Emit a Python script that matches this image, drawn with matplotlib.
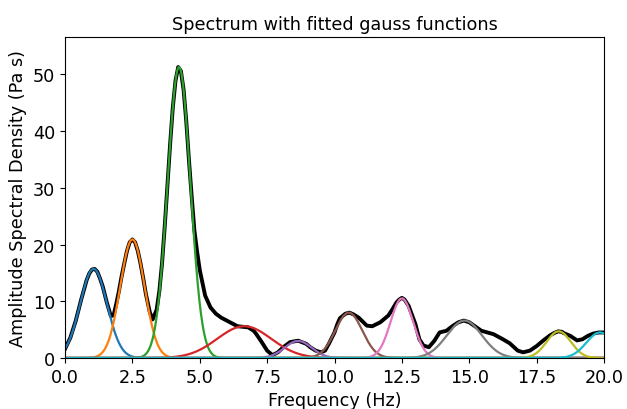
import numpy as np
import matplotlib
matplotlib.use("Agg")
import matplotlib.pyplot as plt

freq = [0.0, 0.2, 0.4, 0.6, 0.8, 0.9, 1.0, 1.1, 1.2, 1.3, 1.4, 1.55, 1.7, 1.8,
        1.9, 2.0, 2.1, 2.2, 2.3, 2.4, 2.5, 2.6, 2.7, 2.8, 2.9, 3.0, 3.15, 3.25,
        3.4, 3.5, 3.6, 3.7, 3.8, 3.9, 4.0, 4.1, 4.2, 4.3, 4.4, 4.5, 4.6, 4.7,
        4.8, 4.9, 5.0, 5.2, 5.4, 5.6, 5.8, 6.0, 6.2, 6.4, 6.6, 6.8, 7.0, 7.1,
        7.3, 7.5, 7.7, 7.9, 8.1, 8.35, 8.65, 8.95, 9.1, 9.3, 9.5, 9.65, 9.8,
        10.0, 10.1, 10.2, 10.4, 10.55, 10.7, 10.9, 11.2, 11.4, 11.7, 12.0,
        12.15, 12.3, 12.4, 12.5, 12.6, 12.75, 13.0, 13.15, 13.3, 13.5, 13.7,
        13.9, 14.15, 14.4, 14.6, 14.8, 15.0, 15.15, 15.45, 15.9, 16.25, 16.5,
        16.8, 17.0, 17.25, 17.5, 17.75, 18.0, 18.15, 18.3, 18.45, 18.5, 18.75,
        19.0, 19.2, 19.4, 19.6, 19.8, 20.0]
amp = [1.6, 3.6, 6.6, 10.3, 13.7, 14.9, 15.6, 15.7, 15.2, 14.0, 12.6, 9.8, 7.4, 7.5,
       9.5, 11.8, 14.4, 16.7, 18.9, 20.4, 20.9, 20.4, 18.9, 16.7, 14.1, 11.3, 8.0, 6.8,
       8.5, 11.8, 16.7, 23.2, 30.4, 37.7, 44.2, 48.9, 51.3, 50.6, 47.3, 41.7, 34.8, 28.5,
       22.5, 18.8, 15.5, 11.0, 8.9, 7.8, 7.1, 6.6, 6.1, 5.6, 5.5, 5.4, 4.8, 4.2,
       2.8, 1.3, 0.5, 1.0, 1.9, 2.8, 3.05, 2.5, 1.9, 1.3, 1.0, 1.3, 2.6,
       4.5, 5.9, 7.0, 7.8, 8.0, 7.7, 7.1, 5.7, 5.6, 6.3, 7.5,
       8.6, 9.8, 10.3, 10.6, 10.3, 9.2, 6.0, 3.3, 2.2, 1.9, 3.0,
       4.5, 4.8, 5.7, 6.3, 6.6, 6.3, 5.8, 4.8, 4.2, 3.3, 2.6,
       1.3, 1.0, 1.3, 2.1, 3.1, 4.0, 4.4, 4.7, 4.6, 4.4, 3.9,
       3.1, 3.3, 3.9, 4.3, 4.5, 4.5]

# --- fitted gauss parameters (height, centre, sigma) ---
g_height = [15.7, 20.9, 51.3, 5.6, 3.0, 8.0, 10.5, 6.6, 4.7, 4.5]
g_center = [1.06, 2.5, 4.23, 6.65, 8.65, 10.53, 12.5, 14.82, 18.32, 19.85]
g_sigma = [0.5, 0.45, 0.42, 1.0, 0.5, 0.5, 0.42, 0.65, 0.45, 0.5]


def gauss(x, a, mu, s):
    return a * np.exp(-(x - mu) ** 2 / (2 * s ** 2))


fig = plt.figure(figsize=(6.27, 4.10), dpi=100)
ax = fig.add_axes([0.1037, 0.1244, 0.8596, 0.7829])

ax.plot(freq, amp, color="black", lw=2.8, solid_joinstyle="round")

x = np.linspace(0, 20, 1000)
for a, mu, s in zip(g_height, g_center, g_sigma):
    ax.plot(x, gauss(x, a, mu, s), lw=1.6)

ax.set_xlim(0, 20)
ax.set_ylim(0, 56.6)
ax.set_xlabel("Frequency (Hz)", fontsize=12.7)
ax.set_ylabel("Amplitude Spectral Density (Pa s)", fontsize=12.7)
ax.set_title("Spectrum with fitted gauss functions", fontsize=12.7)
ax.tick_params(labelsize=12.7)

fig.savefig("out.png", dpi=100)
